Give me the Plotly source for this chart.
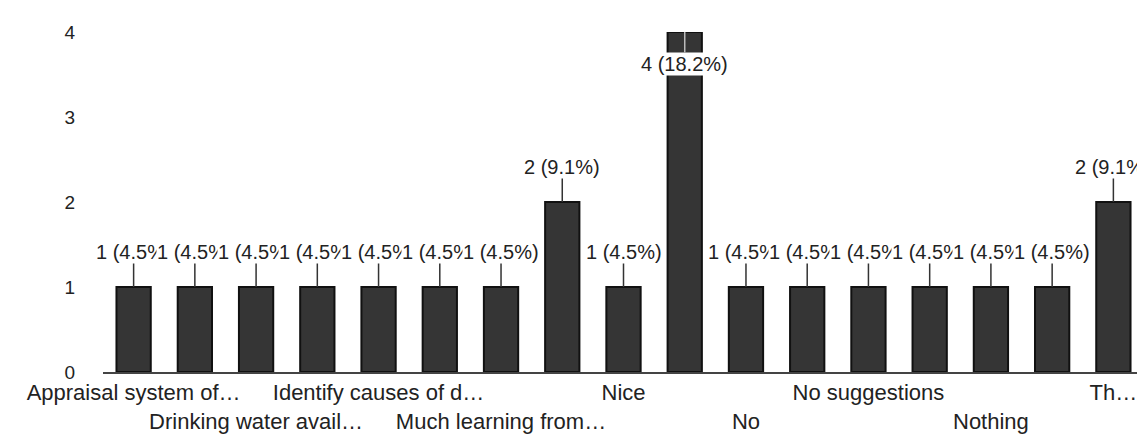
import plotly.graph_objects as go

categories = [
    "Appraisal system of teachers", "Better facilities", "Drinking water availability",
    "Good", "Identify causes of dropouts", "It was good", "Much learning from the programme",
    "NA", "Nice", "Nil", "No", "No comments", "No suggestions", "None", "Nothing",
    "Satisfied", "Thank you",
]
counts = [1, 1, 1, 1, 1, 1, 1, 2, 1, 4, 1, 1, 1, 1, 1, 1, 2]
total = 22
tick_idx = [0, 2, 4, 6, 8, 10, 12, 14, 16]
tick_labels = [
    "Appraisal system of…", "Drinking water avail…", "Identify causes of d…",
    "Much learning from…", "Nice", "No", "No suggestions", "Nothing", "Th…",
]
y_ticks = [0, 1, 2, 3, 4]

FONT = "Liberation Sans, Arial, sans-serif"

fig = go.Figure()
fig.add_trace(go.Bar(
    x=categories, y=counts,
    marker=dict(color="#353535", line=dict(color="#111111", width=2)),
    width=0.56,
    hoverinfo="skip",
))

ticktext = []
for k, (i, lab) in enumerate(zip(tick_idx, tick_labels)):
    ticktext.append(lab if k % 2 == 0 else "<br>" + lab)

for cat, c in zip(categories, counts):
    pct = c / total * 100
    txt = f"{c} ({pct:.1f}%)"
    inside = c == max(counts)
    fig.add_annotation(
        x=cat, y=c, xref="x", yref="y",
        text=txt, showarrow=True, arrowhead=0, arrowwidth=1.5,
        arrowcolor="#bbbbbb" if inside else "#333333",
        ax=0, ay=32 if inside else -35,
        bgcolor="white", borderpad=0,
        font=dict(family=FONT, size=20, color="#222222"),
    )

fig.update_layout(
    width=1145, height=441,
    margin=dict(l=95, r=9, t=24, b=77),
    paper_bgcolor="white", plot_bgcolor="white",
    showlegend=False,
    font=dict(family=FONT, color="#222222"),
    xaxis=dict(
        type="category",
        tickmode="array", tickvals=[categories[i] for i in tick_idx], ticktext=ticktext,
        tickangle=0, showgrid=False, ticks="",
        showline=True, linecolor="#444444", linewidth=2,
        tickfont=dict(family=FONT, size=22, color="#222222"),
        range=[-0.5, len(categories) - 0.5],
    ),
    yaxis=dict(
        range=[0, 4], tickvals=y_ticks, showgrid=False, zeroline=False,
        showline=False, ticks="",
        tickfont=dict(family=FONT, size=19, color="#222222"),
        ticklabelstandoff=27,
    ),
)

fig.write_html("out.html")
